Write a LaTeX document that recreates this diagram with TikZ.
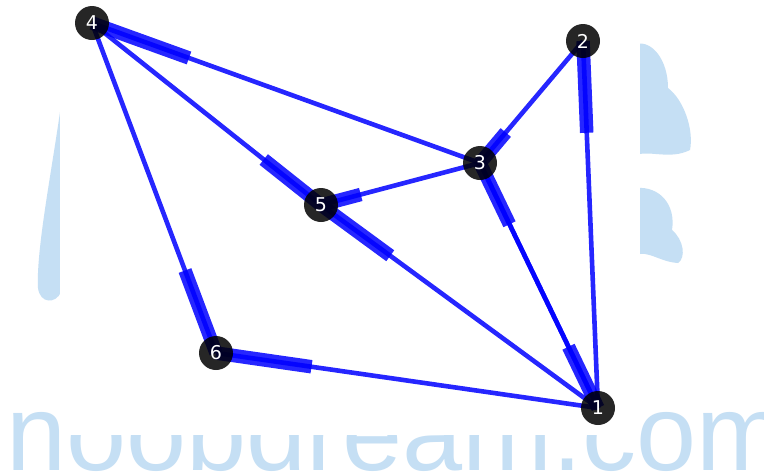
\documentclass[tikz,border=0pt]{standalone}
\usepackage{fontspec}
\setmainfont{DejaVu Sans}
\newfontfamily\markfont{Liberation Sans}
\usetikzlibrary{calc}
\pgfdeclarelayer{back}
\pgfdeclarelayer{edges}
\pgfsetlayers{back,edges,main}
\definecolor{wmblue}{HTML}{C5DFF4}

\begin{document}
\begin{tikzpicture}[x=1pt,y=-1pt,
  vertex/.style={circle,fill=black,fill opacity=.85,text opacity=1,text=white,
    minimum size=34pt,inner sep=0pt,font=\fontsize{19}{19}\selectfont},
  link/.style={draw=blue,opacity=.85,line width=4.6pt},
  linkend/.style={draw=blue,opacity=.85,line width=13.5pt}]
 \useasboundingbox (0,0) rectangle (764,472);
 % vertices
 \node[vertex] (n1) at (598,408) {1};
 \node[vertex] (n2) at (583,41) {2};
 \node[vertex] (n3) at (480,163) {3};
 \node[vertex] (n4) at (92,23) {4};
 \node[vertex] (n5) at (321,205) {5};
 \node[vertex] (n6) at (216,353) {6};
 % watermark behind the plot
 \begin{pgfonlayer}{back}
  \fill[white] (0,0) rectangle (764,472);
  \fill[wmblue] (61,105) .. controls (52,170) and (36,250) .. (38,288)
     .. controls (40,304) and (56,304) .. (61,292) -- cycle;
  \fill[wmblue] (636,44) .. controls (652,40) and (668,60) .. (668,88)
     .. controls (684,100) and (694,130) .. (690,150)
     .. controls (670,160) and (650,150) .. (636,155) -- cycle;
  \fill[wmblue] (636,188) .. controls (660,186) and (676,205) .. (672,230)
     .. controls (684,240) and (686,258) .. (678,263)
     .. controls (660,262) and (648,250) .. (636,255) -- cycle;
  \node[anchor=base west,inner sep=0pt,text=wmblue,
    font=\markfont\fontsize{108}{108}\selectfont] (mark) at (6,470) {noobdream.com};
  \fill[white] (60,0) rectangle (640,435);
 \end{pgfonlayer}
 % directed edges, thick bar at the head
 \begin{pgfonlayer}{edges}
  \foreach \s/\t in {3/4,4/5,1/5,3/5,2/3,1/3,3/1,1/2,4/6,1/6}{
   \draw[link] (n\s.center)--(n\t.center);
   \draw[linkend] ($(n\s.center)!.75!(n\t.center)$)--(n\t.center);
  }
 \end{pgfonlayer}
\end{tikzpicture}
\end{document}
